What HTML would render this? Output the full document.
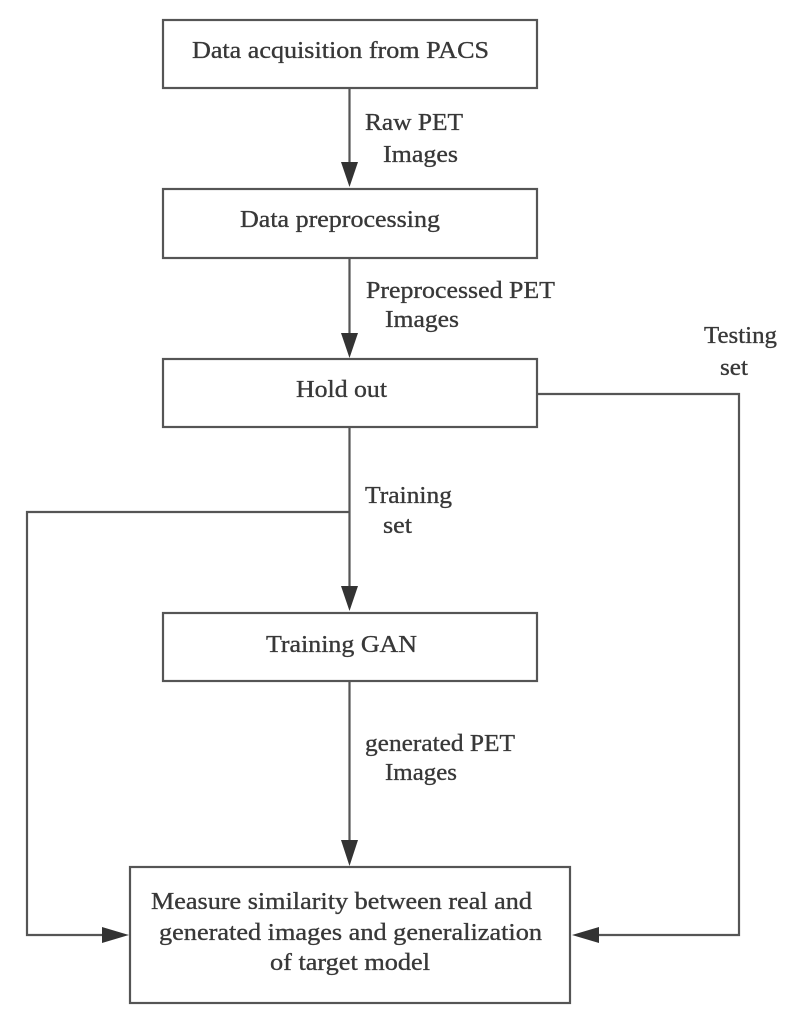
<!DOCTYPE html>
<html>
<head>
<meta charset="utf-8">
<style>
html,body{margin:0;padding:0;background:#fff;}
svg{display:block;}
text{font-family:"Liberation Serif","DejaVu Serif",serif;font-size:24px;fill:#383838;stroke:#383838;stroke-width:0.35px;}
</style>
</head>
<body>
<svg width="794" height="1023" viewBox="0 0 794 1023" xmlns="http://www.w3.org/2000/svg">
<rect width="794" height="1023" fill="#fff"/>
<g fill="none" stroke="#555" stroke-width="2.2">
  <rect x="163" y="20" width="374" height="68"/>
  <rect x="163" y="189" width="374" height="69"/>
  <rect x="163" y="359" width="374" height="68"/>
  <rect x="163" y="613" width="374" height="68"/>
  <rect x="130" y="867" width="440" height="136"/>
  <line x1="349.5" y1="88" x2="349.5" y2="168"/>
  <line x1="349.5" y1="258" x2="349.5" y2="338"/>
  <line x1="349.5" y1="427" x2="349.5" y2="592"/>
  <polyline points="349.5,512 27,512 27,935 106,935"/>
  <polyline points="537,394 739,394 739,935 597,935"/>
  <line x1="349.5" y1="681" x2="349.5" y2="846"/>
</g>
<g fill="#333">
  <polygon points="341,162 358,162 349.5,187"/>
  <polygon points="341,333 358,333 349.5,358"/>
  <polygon points="341,586 358,586 349.5,611"/>
  <polygon points="341,840 358,840 349.5,866"/>
  <polygon points="102,927 102,943 129,935"/>
  <polygon points="599,927 599,943 572,935"/>
</g>
<text x="192" y="58" textLength="297" lengthAdjust="spacingAndGlyphs">Data acquisition from PACS</text>
<text x="240" y="227" textLength="200" lengthAdjust="spacingAndGlyphs">Data preprocessing</text>
<text x="296" y="397" textLength="91" lengthAdjust="spacingAndGlyphs">Hold out</text>
<text x="266" y="652" textLength="151" lengthAdjust="spacingAndGlyphs">Training GAN</text>
<text x="151" y="909" textLength="381" lengthAdjust="spacingAndGlyphs">Measure similarity between real and</text>
<text x="159" y="940" textLength="383" lengthAdjust="spacingAndGlyphs">generated images and generalization</text>
<text x="270" y="970" textLength="160" lengthAdjust="spacingAndGlyphs">of target model</text>
<text x="365" y="130" textLength="98" lengthAdjust="spacingAndGlyphs">Raw PET</text>
<text x="383" y="162" textLength="75" lengthAdjust="spacingAndGlyphs">Images</text>
<text x="366" y="298" textLength="189" lengthAdjust="spacingAndGlyphs">Preprocessed PET</text>
<text x="385" y="327" textLength="74" lengthAdjust="spacingAndGlyphs">Images</text>
<text x="704" y="343" textLength="73" lengthAdjust="spacingAndGlyphs">Testing</text>
<text x="720" y="375" textLength="28" lengthAdjust="spacingAndGlyphs">set</text>
<text x="365" y="503" textLength="87" lengthAdjust="spacingAndGlyphs">Training</text>
<text x="383" y="533" textLength="29" lengthAdjust="spacingAndGlyphs">set</text>
<text x="365" y="751" textLength="150" lengthAdjust="spacingAndGlyphs">generated PET</text>
<text x="385" y="780" textLength="72" lengthAdjust="spacingAndGlyphs">Images</text>
</svg>
</body>
</html>
